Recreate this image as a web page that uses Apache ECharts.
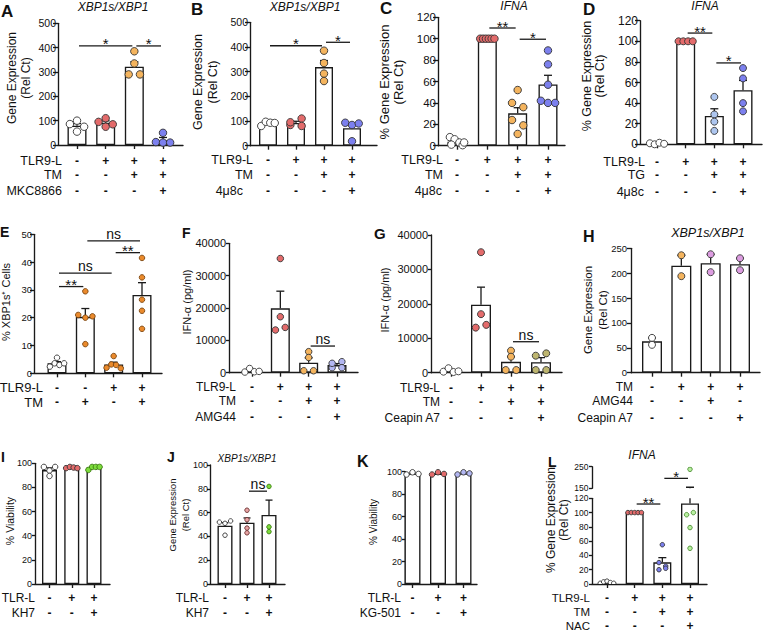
<!DOCTYPE html>
<html><head><meta charset="utf-8">
<script src="https://cdn.jsdelivr.net/npm/echarts@6/dist/echarts.min.js"></script>
<style>html,body{margin:0;padding:0;background:#fff}#c{width:763px;height:633px}</style>
</head><body><div id="c"></div>
<script>
// ================= DATA =================
const A_rows = ['TLR9-L', 'TM', 'MKC8866'];
const A_signs = [['-','+','+','+'], ['-','-','+','+'], ['-','-','-','+']];
const A_means = [79, 91, 322, 20];
const A_sem = [9, 8, 20, 11];
const A_points = [[86, 100, 55, 75], [95, 110, 75, 85], [385, 335, 290, 290], [50, 12, 10, 10]];
const A_brackets = [[0, 2, 407, '*'], [2, 3, 407, '*']];

const B_rows = ['TLR9-L', 'TM', '4μ8c'];
const B_signs = [['-','+','+','+'], ['-','-','+','+'], ['-','-','-','+']];
const B_means = [90.5, 92, 318.5, 71];
const B_sem = [4, 7, 26.5, 18];
const B_points = [[80, 97, 93, 92], [84, 95, 110, 80], [385, 335, 292, 262], [93, 84, 90, 18]];
const B_brackets = [[0, 2, 405, '*'], [2, 3, 419, '*']];

const C_rows = ['TLR9-L', 'TM', '4μ8c'];
const C_signs = [['-','+','+','+'], ['-','-','+','+'], ['-','-','-','+']];
const C_means = [3.6, 100, 30.3, 57.3];
const C_sem = [1.3, 0, 5.2, 8.5];
const C_points = [[8, 6, 1, 3, 0.5, 3], [100, 100, 100, 100, 100, 100], [52, 40, 36, 24, 19, 11], [89, 76, 57, 42, 40, 40]];
const C_brackets = [[1, 2, 110, '**'], [2, 3, 99.5, '*']];

const D_rows = ['TLR9-L', 'TG', '4μ8c'];
const D_signs = [['-','+','+','+'], ['-','-','+','+'], ['-','-','-','+']];
const D_means = [0.8, 100, 27.5, 52.5];
const D_sem = [0.4, 0, 7, 9.5];
const D_points = [[1, 0, 1.5, 0.5], [100, 100, 100, 100], [46, 29, 22, 13], [74, 64, 40, 32]];
const D_brackets = [[1, 2, 108, '**'], [2, 3, 79, '*']];

const E_rows = ['TLR9-L', 'TM'];
const E_signs = [['-','-','+','+'], ['-','+','-','+']];
const E_means = [3.6, 20.3, 3.2, 28.2];
const E_sem = [0.6, 3, 0.8, 4.4];
const E_points = [[5.6, 2.4, 3.6, 3.0, 3.6], [29.5, 21, 20, 20.5, 10.5], [6.2, 2.0, 3.2, 3.0, 1.8], [41.5, 34.5, 26.5, 22.5, 16]];
const E_brackets = [[0, 2, 36, 'ns'], [0, 1, 31.2, '**'], [1, 3, 47.6, 'ns'], [2, 3, 43.4, '**']];

const F_rows = ['TLR9-L', 'TM', 'AMG44'];
const F_signs = [['-','+','+','+'], ['-','-','+','+'], ['-','-','-','+']];
const F_means = [550, 19900, 3100, 2350];
const F_sem = [280, 5300, 1500, 470];
const F_points = [[200, 1300, 300, 400], [35300, 17300, 13200, 14000], [6500, 4700, 600, 600], [1550, 2900, 3400, 1550]];
const F_brackets = [[2, 3, 8240, 'ns']];

const G_rows = ['TLR9-L', 'TM', 'Ceapin A7'];
const G_signs = [['-','+','+','+'], ['-','-','+','+'], ['-','-','-','+']];
const G_means = [550, 19750, 3150, 3030];
const G_sem = [280, 5100, 1500, 1350];
const G_points = [[300, 1300, 200, 400], [35000, 17000, 13100, 13900], [6400, 4650, 775, 775], [4940, 5620, 775, 775]];
const G_brackets = [[2, 3, 9000, 'ns']];

const H_rows = ['TM', 'AMG44', 'Ceapin A7'];
const H_signs = [['-','+','+','+'], ['-','-','+','-'], ['-','-','-','+']];
const H_means = [63, 215, 220, 218];
const H_sem = [7, 21, 18, 12];
const H_points = [[70, 56], [236, 194], [238, 202], [230, 206]];
const H_brackets = [];

const I_rows = ['TLR-L', 'KH7'];
const I_signs = [['-','+','+'], ['-','-','+']];
const I_means = [94.4, 96.4, 96.4];
const I_sem = [1.8, 0.3, 0.6];
const I_points = [[97, 94, 97, 89.5], [96, 97, 96.5, 96], [94.5, 97, 97, 97]];
const I_brackets = [];

const J_rows = ['TLR-L', 'KH7'];
const J_signs = [['-','+','+'], ['-','-','+']];
const J_means = [49, 51.5, 58];
const J_sem = [2.5, 4, 12.5];
const J_points = [[52, 51, 53, 41], [62, 54, 47, 43], [82, 48, 44]];
const J_brackets = [[1, 2, 78, 'ns']];

const K_rows = ['TLR-L', 'KG-501'];
const K_signs = [['-','+','+'], ['-','-','+']];
const K_means = [98.3, 98.3, 98.5];
const K_sem = [0.6, 0.6, 0.5];
const K_points = [[97.5, 99.5, 98], [97.5, 99.5, 98], [97.5, 99.5, 98.5]];
const K_brackets = [];

const L_rows = ['TLR9-L', 'TM', 'NAC'];
const L_signs = [['-','+','+','+'], ['-','-','+','+'], ['-','-','-','+']];
const L_means = [2.2, 100, 30.4, 112.8];
const L_sem = [0.6, 0, 6.5, 42];
const L_points = [[1, 3, 4, 2, 1], [100, 100, 100, 100, 100], [55, 30, 25, 20, 22], [238, 97, 100, 79, 50]];
const L_brackets = [[1, 2, 112, '**'], [2, 3, 196, '*']];

// ================= STYLE / LAYOUT =================
const FONT = '"Liberation Sans", Arial, Helvetica, sans-serif';
const INK = '#1a1a1a';
const RED = '#e36b6b', ORA = '#f4b45e', BLU = '#7c80ee', WH = '#ffffff';

const layouts = {
  A: {ax:58, xEnd:183, y0:145, yTop:23.3, min:0, max:500, int:100, c0:77, c1:163, bw:19, dot:7.5, cap:4, tick:10.5, tl:5, lm:2,
      rowYs:[161,174.5,191], rowRight:[62,62,62], rowSize:12.5, colors:[WH,RED,ORA,BLU],
      letter:['A',1,11,17], title:['XBP1s/XBP1',113,6.5,12], yname:['Gene Expression\n(Rel Ct)',19,78,12,14]},
  B: {ax:250, xEnd:377, y0:145.7, yTop:22.3, min:0, max:500, int:100, c0:268, c1:352, bw:18, dot:7.5, cap:4, tick:10.5, tl:5, lm:2,
      rowYs:[160,174.5,191], rowRight:[253,253,243], rowSize:12.5, colors:[WH,RED,ORA,BLU],
      letter:['B',191,9,17], title:['XBP1s/XBP1',305,7,12], yname:['Gene Expression\n(Rel Ct)',205.5,82,12.5,15]},
  C: {ax:438, xEnd:565, y0:145.7, yTop:17.3, min:0, max:120, int:20, c0:457, c1:548, bw:19, dot:7.5, cap:4, tick:11.5, tl:5, lm:2,
      rowYs:[160,174.5,191], rowRight:[443,443,442], rowSize:12.5, colors:[WH,RED,ORA,BLU],
      letter:['C',380,8,17], title:['IFNA',514,5.5,12], yname:['% Gene Expression\n(Rel Ct)',391.5,82,13,13.5]},
  D: {ax:640, xEnd:762, y0:144.3, yTop:20.7, min:0, max:120, int:20, c0:657, c1:743, bw:19, dot:7, cap:4, tick:12, tl:5, lm:2,
      rowYs:[161.5,174.5,191.5], rowRight:[645,645,644], rowSize:12.5, colors:[WH,RED,'#aec6ef',BLU],
      letter:['D',583,9,17], title:['IFNA',705,5.5,12], yname:['% Gene Expression\n(Rel Ct)',593.5,76,12.5,13.5]},
  E: {ax:34, xEnd:162, y0:373.3, yTop:234.3, min:0, max:50, int:10, c0:57, c1:142, bw:19, dot:5.5, cap:4, tick:9.5, tl:4, lm:2,
      rowYs:[387.7,402.3], rowRight:[43,43], rowSize:13, colors:[WH,'#ea8a2c','#ea8a2c','#ea8a2c'], strokes:['#333','#7a4510','#7a4510','#7a4510'],
      letter:['E',0,232,14], yname:['% XBP1s⁺ Cells',6,302,11,13]},
  F: {ax:229, xEnd:358, y0:372.7, yTop:243.3, min:0, max:40000, int:10000, c0:252, c1:337, bw:19, dot:6.5, cap:4, tick:11, tl:3, lm:3,
      rowYs:[386.7,401,417.3], rowRight:[236,236,236], rowSize:12, colors:[WH,RED,ORA,'#b3b7f2'],
      letter:['F',182,233,14], yname:['IFN-α (pg/ml)',187,302,11,13]},
  G: {ax:431, xEnd:562, y0:372.7, yTop:235, min:0, max:40000, int:10000, c0:451, c1:541, bw:20, dot:7, cap:4, tick:11, tl:3, lm:3,
      rowYs:[387.7,401.7,418.3], rowRight:[440,440,440], rowSize:12, colors:[WH,RED,ORA,'#bdb56f'],
      letter:['G',374,233,15], yname:['IFN-α (pg/ml)',385,300,11,13]},
  H: {ax:631, xEnd:760, y0:372.7, yTop:248.3, min:0, max:250, int:50, c0:652, c1:740, bw:20, dot:7, cap:4, tick:9.5, tl:4, lm:4,
      rowYs:[386.7,401,418], rowRight:[633,633,633], rowSize:12, colors:[WH,ORA,'#dc9ce0','#dc9ce0'],
      letter:['H',583,236,16], title:['XBP1s/XBP1',708,233,12.5], yname:['Gene Expression\n(Rel Ct)',595.5,310,11.5,15]},
  I: {ax:35, xEnd:110, y0:584, yTop:463.3, min:0, max:100, int:20, c0:49.5, c1:94, bw:15, dot:5.5, cap:3, tick:9, tl:3, lm:3,
      rowYs:[597.7,612.7], rowRight:[35,35], rowSize:12, colors:[WH,RED,'#7ddc3c'], strokes:['#333','#333','#3a7a10'],
      letter:['I',1,457,14], yname:['% Viability',10,521,10.5,13]},
  J: {ax:210, xEnd:285, y0:584, yTop:465, min:0, max:100, int:20, c0:225, c1:269, bw:15, dot:4.5, cap:3.5, tick:9, tl:3, lm:2,
      rowYs:[597.7,612.7], rowRight:[209,209], rowSize:12, colors:[WH,'#e8a5a5','#7ddc3c'], strokes:['#333','#6a3030','#3a7a10'],
      letter:['J',167,457,14], title:['XBP1s/XBP1',247,458,10], yname:['Gene Expression\n(Rel Ct)',178.5,515,9.5,13]},
  K: {ax:405, xEnd:477, y0:584, yTop:471.7, min:0, max:100, int:20, c0:412.5, c1:463.5, bw:16, dot:5.5, cap:3, tick:9, tl:3, lm:3,
      rowYs:[597.7,612.7], rowRight:[401,401], rowSize:12, colors:[WH,RED,'#b3b7f2'],
      letter:['K',357,461,16], yname:['% Viability',373,522,10,13]},
  L: {ax:592, xEnd:707, y0:584, yTop:498.3, min:0, max:120, int:20, brk:{y0:488.3, yTop:466.7, min:150, max:250, int:100},
      c0:607, c1:690, bw:18, dot:4.5, cap:4, tick:8.5, tl:3, lm:3.5,
      rowYs:[597.7,611.7,626.3], rowRight:[590,590,590], rowSize:11.5, colors:[WH,RED,BLU,'#b8f0a0'], strokes:['#333','#333','#333','#4a8a30'],
      letter:['L',548,462,14], title:['IFNA',642,454.5,12], yname:['% Gene Expression\n(Rel Ct)',557.5,520,12,13]}
};

const panels = [
  ['A', A_rows, A_signs, A_means, A_sem, A_points, A_brackets],
  ['B', B_rows, B_signs, B_means, B_sem, B_points, B_brackets],
  ['C', C_rows, C_signs, C_means, C_sem, C_points, C_brackets],
  ['D', D_rows, D_signs, D_means, D_sem, D_points, D_brackets],
  ['E', E_rows, E_signs, E_means, E_sem, E_points, E_brackets],
  ['F', F_rows, F_signs, F_means, F_sem, F_points, F_brackets],
  ['G', G_rows, G_signs, G_means, G_sem, G_points, G_brackets],
  ['H', H_rows, H_signs, H_means, H_sem, H_points, H_brackets],
  ['I', I_rows, I_signs, I_means, I_sem, I_points, I_brackets],
  ['J', J_rows, J_signs, J_means, J_sem, J_points, J_brackets],
  ['K', K_rows, K_signs, K_means, K_sem, K_points, K_brackets],
  ['L', L_rows, L_signs, L_means, L_sem, L_points, L_brackets]
];

// ================= BUILD =================
const option = {animation:false, backgroundColor:'#ffffff', grid:[], xAxis:[], yAxis:[], series:[], graphic:[]};
const ls = () => ({color: INK, width: 1.35});

function addText(text, x, y, size, o) {
  o = o || {};
  const al = o.align || 'center';
  option.graphic.push({type:'text', x:x, y:y, rotation:o.rot || 0, silent:true, z:10,
    style:{text:text, x:0, y:0, fill:'#111', fontSize:size, fontFamily:FONT,
      fontWeight:o.weight || 'normal', fontStyle:o.italic ? 'italic' : 'normal',
      align:al, textAlign:al, verticalAlign:'middle', textVerticalAlign:'middle',
      lineHeight:o.lh || Math.round(size * 1.1)}});
}

// simple beeswarm: points whose pixel heights are close share a row and are spread symmetrically
function swarm(ys, d, spread) {
  const idx = ys.map((_, i) => i).sort((a, b) => ys[a] - ys[b]);
  const off = ys.map(() => 0);
  let k = 0;
  while (k < idx.length) {
    const start = ys[idx[k]];
    let e = k + 1;
    while (e < idx.length && ys[idx[e]] - start < d * 0.85) e++;
    const cl = idx.slice(k, e).sort((a, b) => a - b);
    const m = cl.length;
    if (m > 1) {
      const s = Math.min(d * 1.5, spread / (m - 1));
      cl.forEach((ii, q) => { off[ii] = (q - (m - 1) / 2) * s; });
    }
    k = e;
  }
  return off;
}

function buildPanel(def) {
  const [id, rows, signs, means, sem, points, brackets] = def;
  const c = layouts[id];
  const n = means.length;
  const sp = (c.c1 - c.c0) / (n - 1);
  const clip = !!c.brk;
  const segs = [{y0:c.y0, yTop:c.yTop, min:c.min, max:c.max, int:c.int, main:true}];
  if (c.brk) segs.push({y0:c.brk.y0, yTop:c.brk.yTop, min:c.brk.min, max:c.brk.max, int:c.brk.int, main:false});
  const cats = means.map((_, i) => String(i));
  const strokes = c.strokes || c.colors.map(() => '#333');

  segs.forEach(s => {
    // frame grid: y axis with ticks/labels + x axis line
    let g = option.grid.length;
    option.grid.push({left:c.ax, top:s.yTop, width:c.xEnd - c.ax, height:s.y0 - s.yTop});
    option.xAxis.push({gridIndex:g, type:'value', min:0, max:1, show:s.main,
      axisLine:{show:true, onZero:false, lineStyle:ls()}, axisTick:{show:false}, axisLabel:{show:false}, splitLine:{show:false}});
    option.yAxis.push({gridIndex:g, type:'value', min:s.min, max:s.max, interval:s.int,
      axisLine:{show:true, onZero:false, lineStyle:ls()},
      axisTick:{show:true, length:c.tl, lineStyle:ls()},
      axisLabel:{margin:c.lm, fontSize:c.tick, fontFamily:FONT, color:'#111', formatter:v => String(v)},
      splitLine:{show:false}});
    // plot grid: categories centred on the bars
    g = option.grid.length;
    option.grid.push({left:c.c0 - sp / 2, top:s.yTop, width:sp * n, height:s.y0 - s.yTop});
    const xi = option.xAxis.length;
    option.xAxis.push({gridIndex:g, type:'category', data:cats,
      axisLine:{show:false, onZero:false}, axisTick:{show:s.main, alignWithLabel:true, length:4, lineStyle:ls()},
      axisLabel:{show:false}, splitLine:{show:false}});
    if (s.main) {
      rows.forEach((r, ri) => {
        option.xAxis.push({gridIndex:g, type:'category', data:cats, position:'bottom', offset:c.rowYs[ri] - c.y0,
          axisLine:{show:false, onZero:false}, axisTick:{show:false}, splitLine:{show:false},
          axisLabel:{interval:0, margin:0, verticalAlign:'middle', fontSize:12, fontWeight:'bold', fontFamily:FONT, color:'#111',
            lineHeight:12, formatter:(v, i) => signs[ri][i]}});
      });
    }
    const yi = option.yAxis.length;
    option.yAxis.push({gridIndex:g, type:'value', min:s.min, max:s.max, show:false});

    if (s.main) {
      option.series.push({type:'bar', xAxisIndex:xi, yAxisIndex:yi, data:means, barWidth:c.bw, silent:true, z:2,
        itemStyle:{color:'#ffffff', borderColor:INK, borderWidth:1.35}});
    }
    // error bars (mean + SEM)
    option.series.push({type:'custom', xAxisIndex:xi, yAxisIndex:yi, clip:clip, silent:true, z:3,
      data:means.map((m, i) => [i, m, sem[i]]), encode:{x:0, y:1},
      renderItem:(params, api) => {
        const i = api.value(0), m = api.value(1), e = api.value(2);
        if (!(e > 0)) return null;
        const p1 = api.coord([i, m]), p2 = api.coord([i, m + e]);
        return {type:'group', children:[
          {type:'line', shape:{x1:p1[0], y1:p1[1], x2:p2[0], y2:p2[1]}, style:{stroke:INK, lineWidth:1.3}},
          {type:'line', shape:{x1:p2[0] - c.cap, y1:p2[1], x2:p2[0] + c.cap, y2:p2[1]}, style:{stroke:INK, lineWidth:1.3}}
        ]};
      }});
    // individual points
    const flat = [];
    points.forEach((arr, gi) => arr.forEach((v, j) => flat.push([gi, v, j])));
    option.series.push({type:'custom', xAxisIndex:xi, yAxisIndex:yi, clip:clip, silent:true, z:4,
      data:flat, encode:{x:0, y:1},
      renderItem:(params, api) => {
        const gi = api.value(0), j = api.value(2);
        const arr = points[gi];
        const ys = arr.map(v => api.coord([gi, v])[1]);
        const off = swarm(ys, c.dot, c.bw * 0.75);
        const p = api.coord([gi, arr[j]]);
        return {type:'circle', shape:{cx:p[0] + off[j], cy:p[1], r:c.dot / 2},
          style:{fill:c.colors[gi], stroke:strokes[gi], lineWidth:0.9}};
      }});
    // significance brackets
    const bl = brackets.filter(b => b[2] >= s.min && b[2] <= s.max);
    if (bl.length) {
      option.series.push({type:'custom', xAxisIndex:xi, yAxisIndex:yi, silent:true, z:5,
        data:bl.map(b => [b[0], b[2]]), encode:{x:0, y:1},
        renderItem:(params, api) => {
          const b = bl[params.dataIndex];
          const pa = api.coord([b[0], b[2]]), pb = api.coord([b[1], b[2]]);
          const x1 = pa[0] + 2, x2 = pb[0] - 2, y = pa[1];
          const star = b[3].indexOf('*') >= 0;
          return {type:'group', children:[
            {type:'line', shape:{x1:x1, y1:y, x2:x2, y2:y}, style:{stroke:INK, lineWidth:1.3}},
            {type:'text', style:{text:b[3], x:(x1 + x2) / 2, y:y - (star ? 2 : 7),
              align:'center', textAlign:'center', verticalAlign:'middle', textVerticalAlign:'middle',
              fontSize:star ? 15 : 14, fontFamily:FONT, fill:'#111'}}
          ]};
        }});
    }
  });

  // texts
  addText(c.letter[0], c.letter[1], c.letter[2], c.letter[3], {align:'left', weight:'bold'});
  if (c.title) addText(c.title[0], c.title[1], c.title[2], c.title[3], {italic:true});
  addText(c.yname[0], c.yname[1], c.yname[2], c.yname[3], {rot:Math.PI / 2, lh:c.yname[4]});
  rows.forEach((r, ri) => addText(r, c.rowRight[ri], c.rowYs[ri], c.rowSize, {align:'right', lh:c.rowSize}));
}

panels.forEach(buildPanel);

const chart = echarts.init(document.getElementById('c'), null, {renderer:'svg', width:763, height:633});
chart.setOption(option);
</script>
</body></html>
